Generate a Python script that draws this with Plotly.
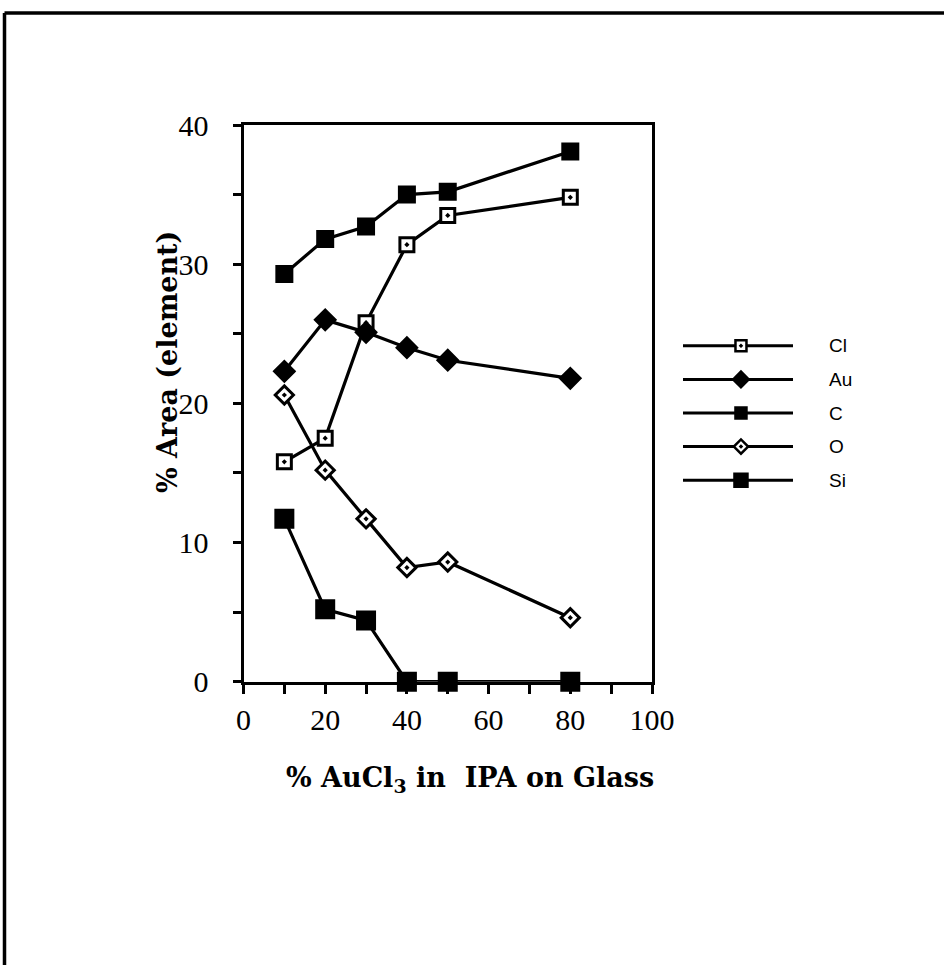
import plotly.graph_objects as go

x_pct = [10, 20, 30, 40, 50, 80]
cl = [15.8, 17.5, 25.8, 31.4, 33.5, 34.8]
au = [22.3, 26.0, 25.1, 24.0, 23.1, 21.8]
c = [29.3, 31.8, 32.7, 35.0, 35.2, 38.1]
o = [20.6, 15.2, 11.7, 8.2, 8.6, 4.6]
si = [11.7, 5.2, 4.4, 0, 0, 0]

names = ["Cl", "Au", "C", "O", "Si"]
series = [cl, au, c, o, si]
symbols = ["square-dot", "diamond", "square", "diamond-dot", "square"]
fills = ["white", "black", "black", "white", "black"]
sizes = [14, 15, 15, 14, 17]
leg_sizes = [11, 12, 11, 11, 13]

W, H = 944, 965
def px(v): return v / W
def py(v): return 1 - v / H

fig = go.Figure()
for n, s, sym, f, sz in zip(names, series, symbols, fills, sizes):
    fig.add_trace(go.Scatter(
        x=x_pct, y=s, mode="lines+markers", name=n, showlegend=False,
        line=dict(color="black", width=3.2),
        marker=dict(symbol=sym, size=sz, color=f, line=dict(color="black", width=3)),
        cliponaxis=False,
    ))

# custom legend drawn on a secondary axis pair
for i, (n, sym, f, sz) in enumerate(zip(names, symbols, fills, leg_sizes)):
    fig.add_trace(go.Scatter(
        x=[0, 1], y=[i, i], mode="lines", showlegend=False,
        line=dict(color="black", width=3), xaxis="x2", yaxis="y2", hoverinfo="skip"))
    fig.add_trace(go.Scatter(
        x=[0.527], y=[i], mode="markers", showlegend=False,
        marker=dict(symbol=sym, size=sz, color=f, line=dict(color="black", width=2.5)),
        xaxis="x2", yaxis="y2", hoverinfo="skip"))
    fig.add_annotation(x=1.305, y=i, xref="x2", yref="y2", text=n, showarrow=False,
                       xanchor="left", yanchor="middle",
                       font=dict(family="Liberation Sans, Arial", size=19, color="black"))

serif = "Liberation Serif, Times New Roman, serif"
bserif = "DejaVu Serif, serif"
fig.update_layout(
    width=W, height=H, margin=dict(l=0, r=0, t=0, b=0, pad=0, autoexpand=False),
    paper_bgcolor="white", plot_bgcolor="white",
    xaxis=dict(domain=[px(243.5), px(652)], range=[0, 100], tickvals=[0, 20, 40, 60, 80, 100],
               ticks="outside", ticklen=9, tickwidth=2.5, tickcolor="black", automargin=False,
               minor=dict(tickvals=[10, 30, 50, 70, 90], ticks="outside", ticklen=9, tickwidth=2.5, tickcolor="black"),
               showline=True, linecolor="black", linewidth=3, mirror=True,
               showgrid=False, zeroline=False, ticklabelstandoff=0,
               tickfont=dict(family=serif, size=30, color="black")),
    yaxis=dict(domain=[py(681.7), py(125)], range=[0, 40], tickvals=[0, 10, 20, 30, 40],
               ticks="outside", ticklen=8, tickwidth=2.5, tickcolor="black", automargin=False,
               minor=dict(tickvals=[5, 15, 25, 35], ticks="outside", ticklen=8, tickwidth=2.5, tickcolor="black"),
               showline=True, linecolor="black", linewidth=3, mirror=True,
               showgrid=False, zeroline=False, ticklabelstandoff=18,
               tickfont=dict(family=serif, size=30, color="black")),
    xaxis2=dict(domain=[px(683), px(860)], range=[0, (860 - 683) / 110], visible=False,
                anchor="y2", automargin=False),
    yaxis2=dict(domain=[py(497), py(329)], range=[4.5, -0.5], visible=False,
                anchor="x2", automargin=False),
    showlegend=False,
)

fig.add_annotation(x=px(167), y=py(362), xref="paper", yref="paper", text="<b>% Area (element)</b>",
                   textangle=-90, showarrow=False, xanchor="center", yanchor="middle",
                   font=dict(family=bserif, size=27, color="black"))
fig.add_annotation(x=px(470), y=py(779), xref="paper", yref="paper", text="<b>% AuCl<sub>3</sub> in  IPA on Glass</b>",
                   showarrow=False, xanchor="center", yanchor="middle",
                   font=dict(family=bserif, size=27, color="black"))

# outer frame (top and left edges)
fig.add_shape(type="line", xref="paper", yref="paper", x0=px(4.5), x1=1, y0=py(13), y1=py(13),
              line=dict(color="black", width=3.5))
fig.add_shape(type="line", xref="paper", yref="paper", x0=px(4.5), x1=px(4.5), y0=py(13), y1=0,
              line=dict(color="black", width=3.5))

fig.write_html("out.html", config={"displayModeBar": False},
               post_script="document.body.style.margin='0';document.body.style.overflow='hidden';")
